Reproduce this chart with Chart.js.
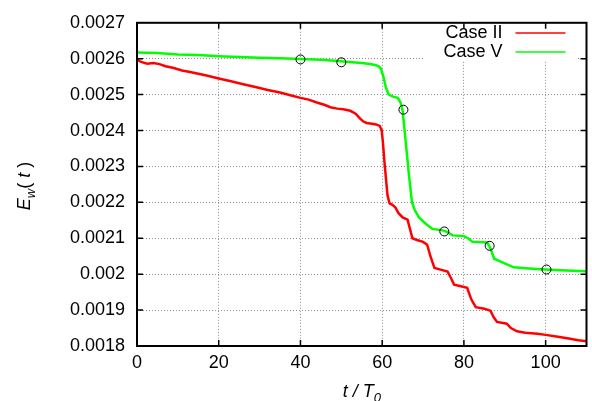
<!DOCTYPE html>
<html>
<head>
<meta charset="utf-8">
<script src="https://cdn.jsdelivr.net/npm/chart.js@4/dist/chart.umd.min.js"></script>
<style>
    html, body { margin: 0; padding: 0; background: #fff; }
    #wrap { width: 592px; height: 401px; position: relative; }
</style>
</head>
<body>
<div id="wrap"><canvas id="chart"></canvas></div>
<script>
const seriesLabels = ["Case II", "Case V"];

const caseIITime = [0, 1, 2.5, 4, 5.5, 7, 9, 11, 13, 15, 17, 20, 23, 26, 29, 32, 35, 38, 40, 42,
    44, 46, 47.3, 49, 50.5, 52.2, 53.5, 54.6, 55.4, 56.2, 57.5, 58.5, 59.4, 59.9, 60.2, 60.5, 60.8, 61.3, 61.8, 62.5,
    63.2, 64, 65, 66.2, 66.8, 67.4, 68.5, 70, 71, 71.8, 72.8, 74.5, 76, 76.8, 77.6, 79, 80.8, 81.8, 82.9, 85,
    86.5, 87.3, 88.1, 90.5, 91.5, 93, 95, 98, 100, 103, 106, 108, 110];
const caseIIValue = [0.002598, 0.002591, 0.002586, 0.002588, 0.002585, 0.002579, 0.002574, 0.002567, 0.002563, 0.002558,
    0.002553, 0.002545, 0.002537, 0.002529, 0.002521, 0.002513, 0.002506, 0.002497, 0.002491, 0.002486,
    0.002478, 0.002471, 0.002465, 0.002461, 0.002459, 0.002455, 0.002447, 0.002433, 0.002425, 0.002421,
    0.002419, 0.002417, 0.002413, 0.0024, 0.002364, 0.00232, 0.002282, 0.00222, 0.002197, 0.002193,
    0.002186, 0.00217, 0.002158, 0.002152, 0.002126, 0.0021, 0.002095, 0.00209, 0.002082, 0.00205,
    0.002017, 0.002012, 0.002007, 0.00199, 0.001971, 0.001967, 0.001962, 0.00193, 0.001908, 0.001904,
    0.001898, 0.00188, 0.001867, 0.001862, 0.00185, 0.001841, 0.001837, 0.001834, 0.001831, 0.001826,
    0.00182, 0.001816, 0.001813];

const caseVTime = [0, 5, 10, 15, 20, 25, 30, 35, 40, 45, 48.4, 52, 55, 57, 58.5, 59.2, 59.7, 60.3, 60.9, 61.6,
    62.5, 63.8, 64.5, 65, 65.4, 65.8, 66.5, 66.9, 67.3, 68, 69, 70.5, 72.3, 74.8, 76, 77.2, 80, 81, 82.1, 85.7,
    86.5, 87.4, 89.4, 92.2, 95.9, 100, 105, 110];
const caseVValue = [0.002617, 0.002616, 0.002612, 0.00261, 0.002607, 0.002605, 0.002603, 0.002601, 0.002599, 0.002597,
    0.002594, 0.002591, 0.002588, 0.002585, 0.002582, 0.002578, 0.002572, 0.00255, 0.00252, 0.0025,
    0.002495, 0.002491, 0.002478, 0.002455, 0.00241, 0.002364, 0.002282, 0.00224, 0.0022, 0.002178,
    0.002158, 0.002142, 0.002126, 0.002122, 0.002117, 0.002108, 0.002106, 0.0021, 0.00209, 0.002088,
    0.002072, 0.002043, 0.002033, 0.002019, 0.002016, 0.002013, 0.00201, 0.002008];

// open circles on the Case V curve
const markerTime = [40, 50, 65.2, 75.2, 86.3, 100.2];
const markerValue = [0.002598, 0.00259, 0.002458, 0.002119, 0.002079, 0.002013];

const xTicks = [0, 20, 40, 60, 80, 100];
const yTicks = [0.0018, 0.0019, 0.002, 0.0021, 0.0022, 0.0023, 0.0024, 0.0025, 0.0026, 0.0027];
const yTickLabels = ["0.0018", "0.0019", "0.002", "0.0021", "0.0022", "0.0023", "0.0024", "0.0025", "0.0026", "0.0027"];

const FONT = "'Liberation Sans', Arial, Helvetica, sans-serif";
const toPoints = (xs, ys) => xs.map((x, i) => ({ x, y: ys[i] }));

// frame, inward ticks, key and axis titles, gnuplot style
const decorPlugin = {
    id: "decor",
    afterDatasetsDraw(chart) {
        const { ctx, chartArea: a, scales } = chart;
        ctx.save();

        // key with opaque background
        ctx.fillStyle = "#fff";
        ctx.fillRect(a.right - 163, 21, 153, 40);
        ctx.font = "18px " + FONT;
        ctx.textAlign = "right";
        ctx.textBaseline = "middle";
        const lineDs = chart.data.datasets.filter((d) => d.label);
        lineDs.forEach((d, i) => {
            const y = 33 + i * 19;
            ctx.fillStyle = "#000";
            ctx.fillText(d.label, a.right - 84, y);
            ctx.strokeStyle = d.borderColor;
            ctx.lineWidth = 1.5;
            ctx.beginPath();
            ctx.moveTo(a.right - 71, y);
            ctx.lineTo(a.right - 21, y);
            ctx.stroke();
        });

        // ticks on all four sides
        ctx.strokeStyle = "#000";
        ctx.lineWidth = 1.5;
        const len = 6;
        ctx.beginPath();
        xTicks.forEach((v) => {
            const px = scales.x.getPixelForValue(v);
            if (px <= a.left + 1 || px >= a.right - 1) return;
            ctx.moveTo(px, a.bottom);
            ctx.lineTo(px, a.bottom - len);
            ctx.moveTo(px, a.top);
            ctx.lineTo(px, a.top + len);
        });
        yTicks.forEach((v) => {
            const py = scales.y.getPixelForValue(v);
            if (py <= a.top + 1 || py >= a.bottom - 1) return;
            ctx.moveTo(a.left, py);
            ctx.lineTo(a.left + len, py);
            ctx.moveTo(a.right, py);
            ctx.lineTo(a.right - len, py);
        });
        ctx.stroke();

        ctx.lineWidth = 2;
        ctx.strokeRect(a.left, a.top, a.right - a.left, a.bottom - a.top);
        ctx.restore();
    },
    afterDraw(chart) {
        const { ctx, chartArea: a } = chart;
        ctx.save();
        ctx.fillStyle = "#000";
        ctx.textBaseline = "alphabetic";
        ctx.textAlign = "left";

        // x title: t / T_0
        const big = "italic 18px " + FONT;
        const small = "italic 13px " + FONT;
        ctx.font = big;
        const w1 = ctx.measureText("t / T").width;
        ctx.font = small;
        const w2 = ctx.measureText("0").width;
        let x0 = (a.left + a.right) / 2 - (w1 + w2) / 2;
        ctx.font = big;
        ctx.fillText("t / T", x0, 397);
        ctx.font = small;
        ctx.fillText("0", x0 + w1, 402);

        // y title: E_w( t ), rotated
        ctx.translate(30, 186);
        ctx.rotate(-Math.PI / 2);
        ctx.font = big;
        const e = ctx.measureText("E").width;
        ctx.font = small;
        const w = ctx.measureText("w").width;
        ctx.font = big;
        const rest = ctx.measureText("( t )").width;
        let sx = -(e + w + rest) / 2;
        ctx.fillText("E", sx, 0);
        ctx.font = small;
        ctx.fillText("w", sx + e, 5);
        ctx.font = "18px " + FONT;
        ctx.fillText("( ", sx + e + w, 0);
        const p = ctx.measureText("( ").width;
        ctx.font = big;
        ctx.fillText("t", sx + e + w + p, 0);
        const tw = ctx.measureText("t").width;
        ctx.font = "18px " + FONT;
        ctx.fillText(" )", sx + e + w + p + tw, 0);
        ctx.restore();
    },
};

new Chart(document.getElementById("chart"), {
    type: "line",
    data: {
        datasets: [
            {
                data: toPoints(markerTime, markerValue),
                showLine: false,
                pointRadius: 4.5,
                pointBorderColor: "#000",
                pointBackgroundColor: "rgba(0,0,0,0)",
                pointBorderWidth: 1,
                order: 0,
            },
            {
                label: seriesLabels[0],
                data: toPoints(caseIITime, caseIIValue),
                borderColor: "#ff0000",
                borderWidth: 2.5,
                pointRadius: 0,
                tension: 0,
                order: 1,
            },
            {
                label: seriesLabels[1],
                data: toPoints(caseVTime, caseVValue),
                borderColor: "#00ff00",
                borderWidth: 2.5,
                pointRadius: 0,
                tension: 0,
                order: 1,
            },
        ],
    },
    options: {
        responsive: true,
        maintainAspectRatio: false,
        animation: false,
        devicePixelRatio: 1,
        layout: { padding: { top: 17, right: 4, left: 0, bottom: 0 } },
        plugins: {
            legend: { display: false },
            tooltip: { enabled: false },
        },
        scales: {
            x: {
                type: "linear",
                min: 0,
                max: 110,
                afterBuildTicks: (s) => { s.ticks = xTicks.map((v) => ({ value: v })); },
                afterFit: (s) => { s.height = 55; },
                ticks: {
                    font: { family: FONT, size: 18 },
                    color: "#000",
                    padding: 6,
                    maxRotation: 0,
                    autoSkip: false,
                },
                grid: { color: "#8c8c8c", lineWidth: 1, drawTicks: false },
                border: { display: false, dash: [1, 2] },
            },
            y: {
                type: "linear",
                min: 0.0018,
                max: 0.0027,
                afterBuildTicks: (s) => { s.ticks = yTicks.map((v) => ({ value: v })); },
                afterFit: (s) => { s.width = 137; },
                ticks: {
                    font: { family: FONT, size: 18 },
                    color: "#000",
                    padding: 12,
                    autoSkip: false,
                    callback: (v) => yTickLabels[yTicks.findIndex((t) => Math.abs(t - v) < 1e-9)],
                },
                grid: { color: "#8c8c8c", lineWidth: 1, drawTicks: false },
                border: { display: false, dash: [1, 2] },
            },
        },
    },
    plugins: [decorPlugin],
});
</script>
</body>
</html>
